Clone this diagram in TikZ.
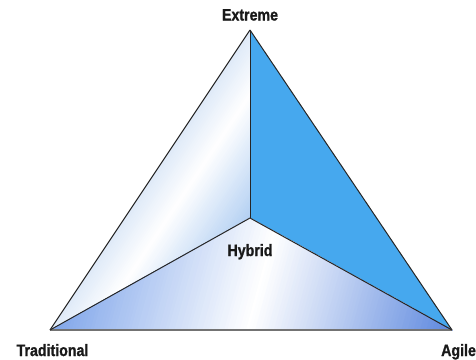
\documentclass[tikz,border=0pt]{standalone}
\usepackage{fontspec}
\setmainfont{Liberation Sans}[FakeStretch=0.86, BoldFeatures={FakeBold=1.2}]
\usetikzlibrary{calc}
\definecolor{agileblue}{HTML}{46A8EE}
\definecolor{paleblue}{HTML}{B2CFF2}
\definecolor{tintblue}{HTML}{DFEAF8}
\definecolor{tradblue}{HTML}{7FA5EA}
\definecolor{hybridblue}{HTML}{5A86DE}
\tikzset{corner/.style={font=\bfseries\fontsize{16.5}{18}\selectfont, inner sep=0pt, text=black!90},
	edge/.style={black!85, line width=1pt, line join=round}}

\begin{document}
\begin{tikzpicture}[x=1pt, y=-1pt]
	\useasboundingbox (0,0) rectangle (476,359);
	% corners of the triangle and its centre
	\coordinate (ext) at (250,30);
	\coordinate (hyb) at (250,218);
	\coordinate (trad) at (50,330);
	\coordinate (agi) at (452,330);

	% left face: tinted outer edge, a white band, pale blue towards the centre
	\begin{scope}
		\clip (ext) -- (hyb) -- (trad) -- cycle;
		\foreach \t in {0,2,...,106} {
			\pgfmathtruncatemacro\pct{\t<35 ? (35-\t)/35*100 : (\t-35)/69*100}
			\ifnum\t<35 \def\facecol{tintblue}\else \def\facecol{paleblue}\fi
			\fill[\facecol!\pct!white] ($(trad)+(\t*0.8321-400*0.5547,\t*0.5547+400*0.8321)$)
				-- ($(trad)+(\t*0.8321+400*0.5547,\t*0.5547-400*0.8321)$)
				-- ($(trad)+(300*0.8321+400*0.5547,300*0.5547-400*0.8321)$)
				-- ($(trad)+(300*0.8321-400*0.5547,300*0.5547+400*0.8321)$) -- cycle;
		}
	\end{scope}

	% right face
	\fill[agileblue] (ext) -- (agi) -- (hyb) -- cycle;

	% bottom face: blue at both ends, a white band in between
	\begin{scope}
		\clip (hyb) -- (agi) -- (trad) -- cycle;
		\foreach \s in {0,3,...,390} {
			\pgfmathtruncatemacro\pct{\s<190 ? (190-\s)/190*100 : (\s-190)/198*100}
			\ifnum\s<190 \def\facecol{tradblue}\else \def\facecol{hybridblue}\fi
			\fill[\facecol!\pct!white] ($(trad)+(\s*0.965+300*0.263,\s*0.263-300*0.965)$)
				-- ($(trad)+(\s*0.965-300*0.263,\s*0.263+300*0.965)$)
				-- ($(trad)+(600*0.965-300*0.263,600*0.263+300*0.965)$)
				-- ($(trad)+(600*0.965+300*0.263,600*0.263-300*0.965)$) -- cycle;
		}
	\end{scope}

	% edges
	\draw[edge] (ext) -- (trad);
	\draw[edge] (ext) -- (agi);
	\draw[black!55, line width=2pt] (trad) -- (agi);
	\draw[edge] (ext) -- (hyb);
	\draw[edge] (trad) -- (hyb) -- (agi);

	% labels
	\node[corner, anchor=base] (extlabel) at (250,20.5) {Extreme};
	\node[corner, anchor=base] (hyblabel) at (250,256) {Hybrid};
	\node[corner, anchor=base] (tradlabel) at (52.5,356) {Traditional};
	\node[corner, anchor=base west] (agilabel) at (441,356) {Agile};
\end{tikzpicture}
\end{document}
